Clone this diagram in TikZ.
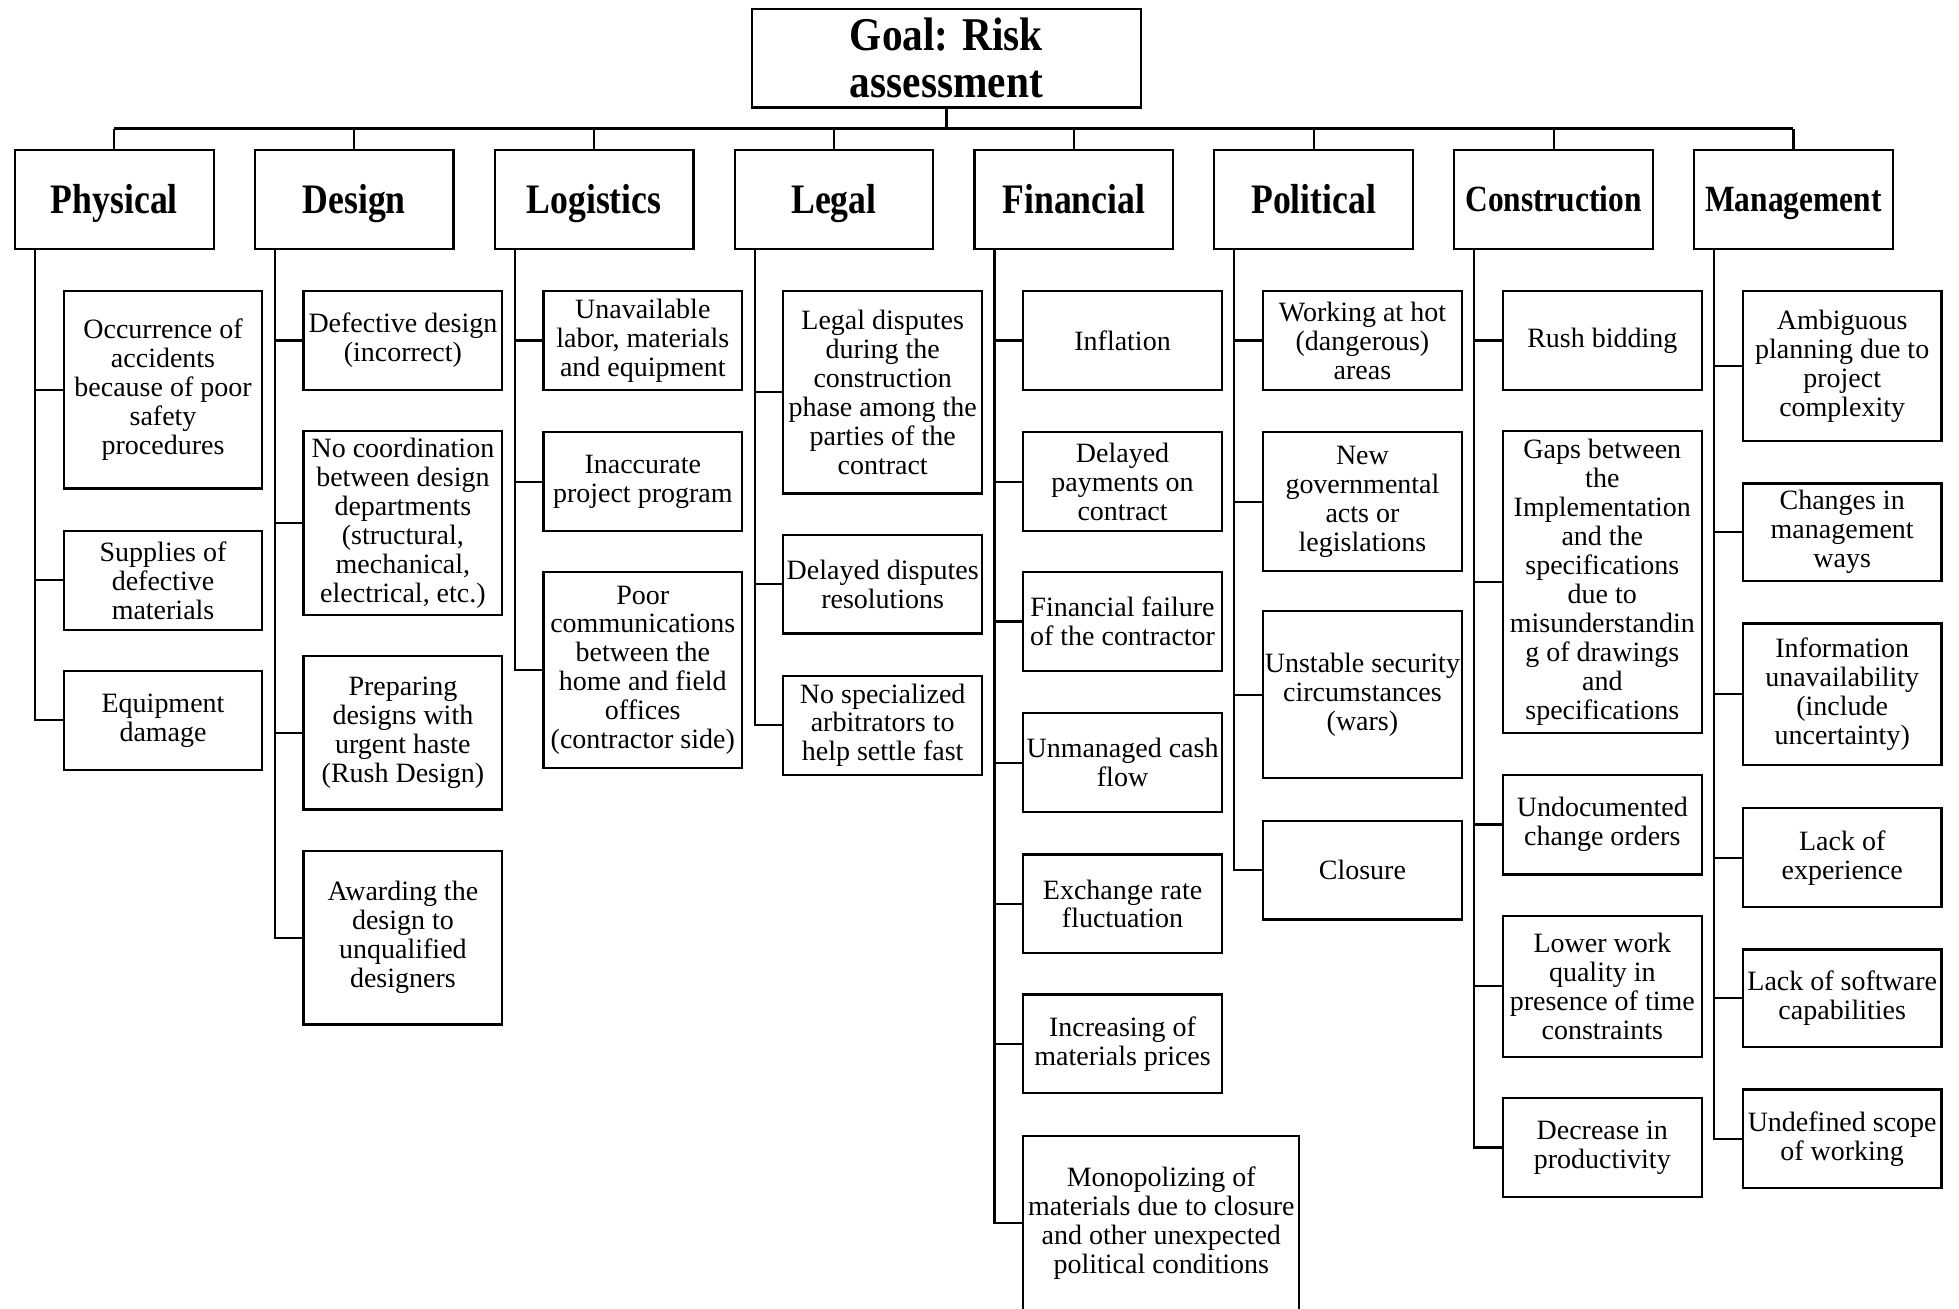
\documentclass[tikz,border=0pt]{standalone}
\usepackage{fontspec}
\setmainfont{Liberation Serif}
\newfontfamily\headfont[FakeStretch=0.85]{Liberation Serif}
\newfontfamily\goalfont[FakeStretch=0.88]{Liberation Serif}
\begin{document}
\begin{tikzpicture}[x=0.625pt,y=-0.625pt,
  bx/.style={draw, line width=1.1pt, inner sep=0pt, align=center},
  leaf/.style={bx, minimum width=99.375pt, font=\fontsize{14}{14.5}\selectfont},
  catbox/.style={bx, minimum width=99.375pt, minimum height=49.375pt, text height=13.9pt, text depth=0pt, font=\headfont\bfseries\fontsize{21}{22}\selectfont},
  catsmall/.style={catbox, text height=12.2pt, font=\headfont\bfseries\fontsize{18.5}{20}\selectfont},
  conn/.style={line width=1.1pt},
  busline/.style={line width=1.6pt}]
\newcommand\leaf[5]{\node[leaf, minimum height={(#4-#3)*0.625pt}] (#1) at (#2,{(#3+#4)/2}) {#5};}
\newcommand\lnk[2]{\draw[conn] (#1) |- (#2.west);}
\useasboundingbox (0,0) rectangle (1568,1047);
% goal
\node[bx, minimum width=194.4pt, minimum height=49.4pt, font=\goalfont\bfseries\fontsize{23.5}{23.5}\selectfont] (goal) at (757.5,46.5) {Goal: Risk\\assessment};
\coordinate (bus) at (757.5,103);
% categories
\node[catbox] (c0) at (91.5,159.5) {Physical};
\node[catbox] (c1) at (283.5,159.5) {Design};
\node[catbox] (c2) at (475.5,159.5) {Logistics};
\node[catbox] (c3) at (667.5,159.5) {Legal};
\node[catbox] (c4) at (859.5,159.5) {Financial};
\node[catbox] (c5) at (1051.5,159.5) {Political};
\node[catsmall] (c6) at (1243.5,159.5) {Construction};
\node[catsmall] (c7) at (1435.5,159.5) {Management};
\draw[conn] (goal.south) -- (bus);
\draw[busline] (c0.north |- bus) -- (c7.north |- bus);
\foreach \i in {0,...,7} {\draw[conn] (c\i.north) -- (c\i.north |- bus);}
% spine tops
\coordinate (s0) at (28,199);
\coordinate (s1) at (220,199);
\coordinate (s2) at (412,199);
\coordinate (s3) at (604,199);
\coordinate (s4) at (796,199);
\coordinate (s5) at (988,199);
\coordinate (s6) at (1180,199);
\coordinate (s7) at (1372,199);
% Physical
\leaf{p1}{130.5}{233}{391}{Occurrence of\\accidents\\because of poor\\safety\\procedures}
\leaf{p2}{130.5}{425}{504}{Supplies of\\defective\\materials}
\leaf{p3}{130.5}{537}{616}{Equipment\\damage}
\foreach \n in {p1,p2,p3} {\lnk{s0}{\n}}
% Design
\leaf{d1}{322.5}{233}{312}{Defective design\\(incorrect)}
\leaf{d2}{322.5}{345}{492}{No coordination\\between design\\departments\\(structural,\\mechanical,\\electrical, etc.)}
\leaf{d3}{322.5}{525}{648}{Preparing\\designs with\\urgent haste\\(Rush Design)}
\leaf{d4}{322.5}{681}{820}{Awarding the\\design to\\unqualified\\designers}
\foreach \n in {d1,d2,d3,d4} {\lnk{s1}{\n}}
% Logistics
\leaf{l1}{514.5}{233}{312}{Unavailable\\labor, materials\\and equipment}
\leaf{l2}{514.5}{346}{425}{Inaccurate\\project program}
\leaf{l3}{514.5}{458}{615}{Poor\\communications\\between the\\home and field\\offices\\(contractor side)}
\foreach \n in {l1,l2,l3} {\lnk{s2}{\n}}
% Legal
\leaf{g1}{706.5}{233}{395}{Legal disputes\\during the\\construction\\phase among the\\parties of the\\contract}
\leaf{g2}{706.5}{428}{507}{Delayed disputes\\resolutions}
\leaf{g3}{706.5}{541}{620}{No specialized\\arbitrators to\\help settle fast}
\foreach \n in {g1,g2,g3} {\lnk{s3}{\n}}
% Financial
\leaf{f1}{898.5}{233}{312}{Inflation}
\leaf{f2}{898.5}{346}{425}{Delayed\\payments on\\contract}
\leaf{f3}{898.5}{458}{537}{Financial failure\\of the contractor}
\leaf{f4}{898.5}{571}{650}{Unmanaged cash\\flow}
\leaf{f5}{898.5}{684}{763}{Exchange rate\\fluctuation}
\leaf{f6}{898.5}{796}{875}{Increasing of\\materials prices}
\node[leaf, minimum width=138.1pt, minimum height={(1049-909)*0.625pt}] (f7) at (929.5,979) {Monopolizing of\\materials due to closure\\and other unexpected\\political conditions};
\foreach \n in {f1,f2,f3,f4,f5,f6,f7} {\lnk{s4}{\n}}
% Political
\leaf{o1}{1090.5}{233}{312}{Working at hot\\(dangerous)\\areas}
\leaf{o2}{1090.5}{346}{457}{New\\governmental\\acts or\\legislations}
\leaf{o3}{1090.5}{489}{623}{Unstable security\\circumstances\\(wars)}
\leaf{o4}{1090.5}{657}{736}{Closure}
\foreach \n in {o1,o2,o3,o4} {\lnk{s5}{\n}}
% Construction
\leaf{k1}{1282.5}{233}{312}{Rush bidding}
\leaf{k2}{1282.5}{345}{587}{Gaps between\\the\\Implementation\\and the\\specifications\\due to\\misunderstandin\\g of drawings\\and\\specifications}
\leaf{k3}{1282.5}{620}{700}{Undocumented\\change orders}
\leaf{k4}{1282.5}{733}{846}{Lower work\\quality in\\presence of time\\constraints}
\leaf{k5}{1282.5}{879}{958}{Decrease in\\productivity}
\foreach \n in {k1,k2,k3,k4,k5} {\lnk{s6}{\n}}
% Management
\leaf{m1}{1474.5}{233}{353}{Ambiguous\\planning due to\\project\\complexity}
\leaf{m2}{1474.5}{387}{465}{Changes in\\management\\ways}
\leaf{m3}{1474.5}{499}{612}{Information\\unavailability\\(include\\uncertainty)}
\leaf{m4}{1474.5}{647}{726}{Lack of\\experience}
\leaf{m5}{1474.5}{760}{838}{Lack of software\\capabilities}
\leaf{m6}{1474.5}{872}{951}{Undefined scope\\of working}
\foreach \n in {m1,m2,m3,m4,m5,m6} {\lnk{s7}{\n}}
\end{tikzpicture}
\end{document}
